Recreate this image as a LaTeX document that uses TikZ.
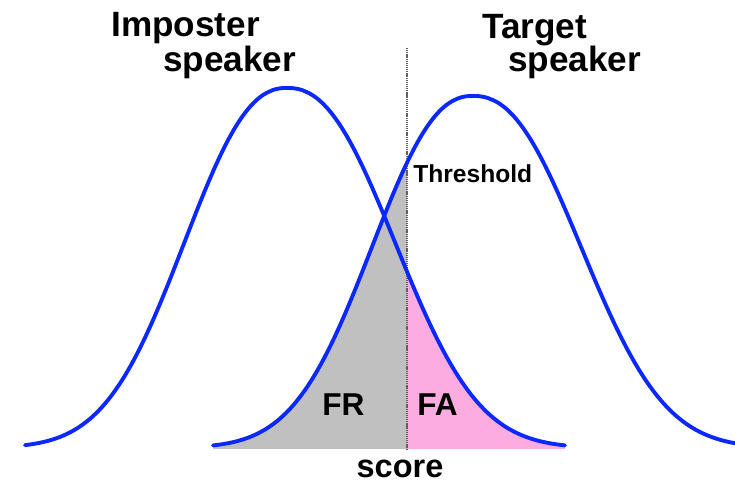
\documentclass[tikz,border=0pt]{standalone}
\usepackage{fontspec}
\setmainfont{Liberation Sans}
\definecolor{curveblue}{RGB}{10,40,255}
\definecolor{frgray}{RGB}{192,192,192}
\definecolor{fapink}{RGB}{252,172,224}
\begin{document}
\begin{tikzpicture}[x=0.02cm,y=-0.02cm,
  curve/.style={draw=curveblue,line width=2.2pt,line cap=round,line join=round},
  thr/.style={draw=gray!75!black,line width=1.5pt,dash pattern=on 0.7pt off 0.5pt},
  bigtext/.style={inner sep=0pt,anchor=base west,font=\bfseries\fontsize{20}{24}\selectfont},
  midtext/.style={inner sep=0pt,anchor=base west,font=\bfseries\fontsize{18}{22}\selectfont},
  smalltext/.style={inner sep=0pt,anchor=base west,font=\bfseries\fontsize{14}{17}\selectfont}]
\useasboundingbox (0,0) rectangle (735,486);
% bell shapes: y = base - A*exp(-(|x-c|/w)^2.3)
\def\pw{2.3}
% imposter: c=287, peak 88, A=360, wl=132, wr=139
% target:   c=473, peak 96, A=352, wl=130, wr=139
% FR region (target, left of threshold)
\fill[frgray] plot[domain=213:407,samples=80] (\x,{448-352*exp(-((abs(473-\x)+0.01)/130)^\pw)}) -- (407,449) -- (213,449) -- cycle;
% FA region (imposter, right of threshold)
\fill[fapink] plot[domain=407:565,samples=80] (\x,{448-360*exp(-((abs(\x-287)+0.01)/139)^\pw)}) -- (565,449) -- (407,449) -- cycle;
% threshold
\coordinate (thrtop) at (407,48);
\coordinate (thrbot) at (407,450);
\draw[thr] (thrtop) -- (thrbot);
% curves
\draw[curve] plot[domain=25:287,samples=90] (\x,{448-360*exp(-((abs(287-\x)+0.01)/132)^\pw)})
  -- plot[domain=287:565,samples=90] (\x,{448-360*exp(-((abs(\x-287)+0.01)/139)^\pw)});
\draw[curve] plot[domain=213:473,samples=90] (\x,{448-352*exp(-((abs(473-\x)+0.01)/130)^\pw)})
  -- plot[domain=473:735,samples=90] (\x,{448-352*exp(-((abs(\x-473)+0.01)/139)^\pw)});
% labels
\node[bigtext] (imp1) at (111,37) {Imposter};
\node[bigtext] (imp2) at (163,72) {speaker};
\node[bigtext] (tar1) at (482,39) {Target};
\node[bigtext] (tar2) at (508,72) {speaker};
\node[smalltext] (thrlab) at (413,183) {Threshold};
\node[midtext] (fr) at (322,416) {FR};
\node[midtext] (fa) at (417,416) {FA};
\node[inner sep=0pt,anchor=base,font=\bfseries\fontsize{18.5}{22}\selectfont] (score) at (400,478) {score};
\end{tikzpicture}
\end{document}
